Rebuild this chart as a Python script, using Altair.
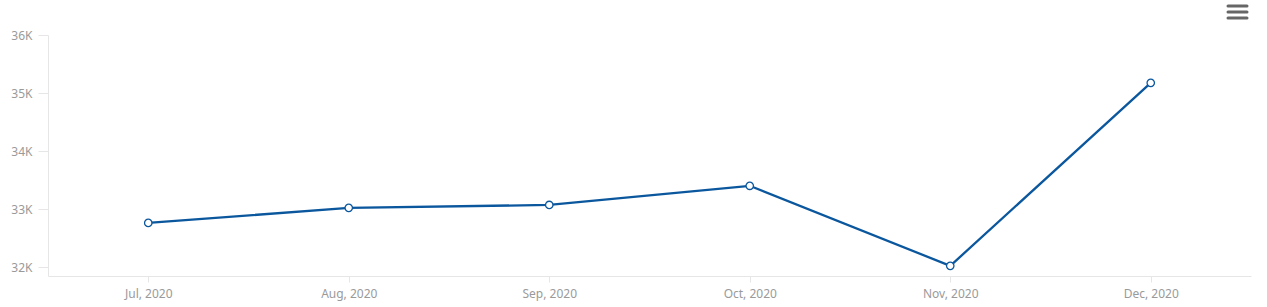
import altair as alt
import pandas as pd

months = ["Jul, 2020", "Aug, 2020", "Sep, 2020", "Oct, 2020", "Nov, 2020", "Dec, 2020"]
values = [32760, 33020, 33070, 33400, 32020, 35175]
y_ticks = [32000, 33000, 34000, 35000, 36000]

df = pd.DataFrame({"month": months, "value": values})

x_enc = alt.X("month:N", sort=months, title=None,
              scale=alt.Scale(type="point", padding=0.5),
              axis=alt.Axis(labelAngle=0, labelColor="#9a9a9a", labelFont="Noto Sans",
                            labelFontSize=12, domainColor="#e6e6e6", tickColor="#e6e6e6",
                            tickSize=6, labelPadding=6, grid=False))
y_enc = alt.Y("value:Q", title=None,
              scale=alt.Scale(domain=[31845, 36000], nice=False, zero=False),
              axis=alt.Axis(values=y_ticks, labelExpr="datum.value / 1000 + 'K'",
                            labelColor="#9a9a9a", labelFont="Noto Sans", labelFontSize=12,
                            domainColor="#e6e6e6", tickColor="#e6e6e6", tickSize=10,
                            labelPadding=6, grid=False))

base = alt.Chart(df).encode(x=x_enc, y=y_enc)
line = base.mark_line(color="#0b579e", strokeWidth=2.3)
pts = base.mark_point(filled=True, fill="white", stroke="#0b579e", strokeWidth=1.3,
                      size=55, opacity=1, shape="circle")

menu_rows = [-29, -23, -17]
menu_df = pd.DataFrame({"r": menu_rows})
menu = alt.Chart(menu_df).mark_rule(color="#666666", strokeWidth=3, strokeCap="round").encode(
    x=alt.value(1180), x2=alt.value(1199), y=alt.Y("r:Q", scale=None)
)

chart = (line + pts + menu).properties(
    width=1203, height=241,
    autosize=alt.AutoSizeParams(type="none"),
    padding={"left": 48, "top": 35, "right": 16, "bottom": 31},
).configure_view(stroke=None)

chart.save("out.html", embed_options={"renderer": "svg", "actions": False})
